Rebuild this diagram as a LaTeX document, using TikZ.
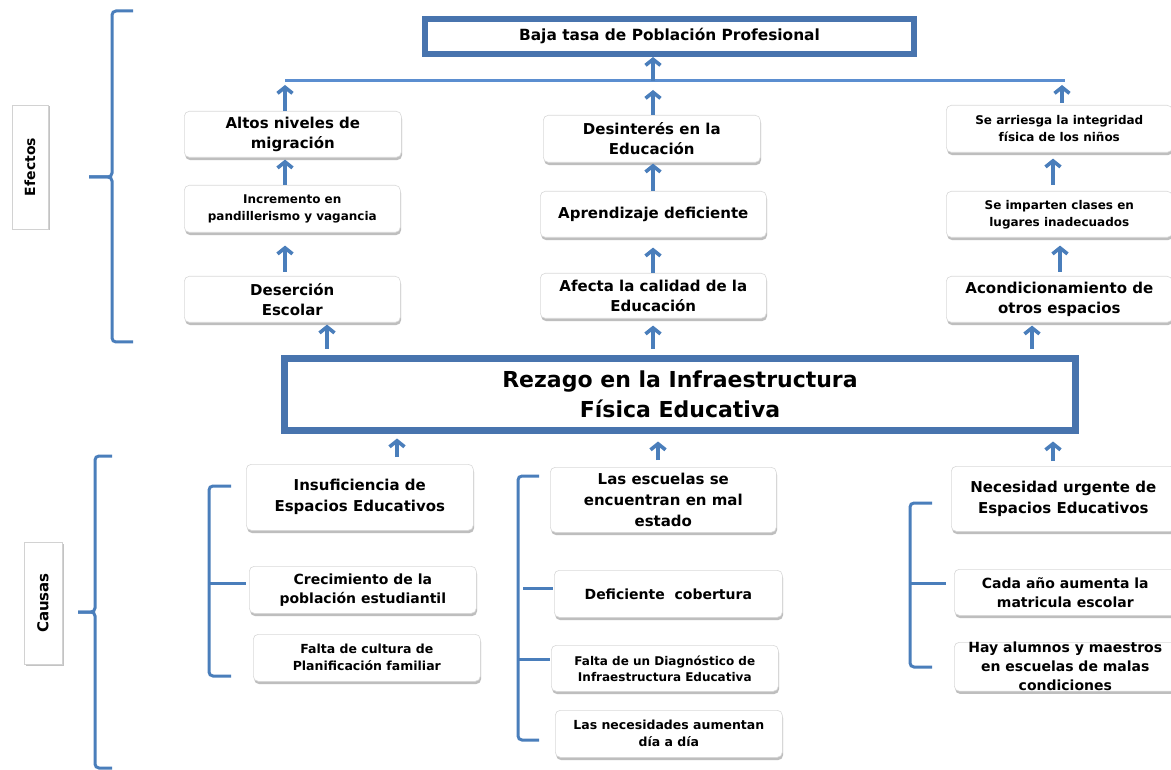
\documentclass[tikz,border=0pt]{standalone}
\usepackage{fontspec}
\setmainfont{DejaVu Sans}
\usetikzlibrary{arrows.meta,shadows,calc}
\definecolor{framec}{HTML}{4874AE}
\definecolor{arrowc}{HTML}{4A7EBB}
\definecolor{linec}{HTML}{5B8ED0}
\newcommand{\fs}[2]{\fontsize{#1}{#2}\selectfont\bfseries}
\begin{document}
\begin{tikzpicture}[x=1pt,y=-1pt,
 card/.style={draw=gray!30, line width=0.6pt, fill=white, rounded corners=5pt, inner sep=0pt, align=center, anchor=north west,
   drop shadow={shadow xshift=0.8pt, shadow yshift=-2.8pt, opacity=0.6, fill=gray!85}},
 lab/.style={draw=gray!35, line width=0.6pt, fill=white, inner sep=0pt,
   drop shadow={shadow xshift=1.5pt, shadow yshift=-1.5pt, opacity=0.55, fill=gray!85}},
 big/.style={draw=framec, fill=white, inner sep=0pt, align=center},
 arr/.style={draw=arrowc, line width=3.6pt, -{Straight Barb[length=6pt,width=15pt]}},
 brk/.style={draw=arrowc, line width=3pt, rounded corners=4pt},
]
\useasboundingbox[fill=white] (0,0) rectangle (1171,770);

% top and main boxes
\node[big, line width=6pt, minimum width=489, minimum height=35, font=\fs{15.4}{18}] (top) at (669.5,36.5) {Baja tasa de Población Profesional};
\node[big, line width=7pt, minimum width=791, minimum height=72, font=\fs{22}{30}] (main) at (680,394.5) {Rezago en la Infraestructura\\Física Educativa};

% labels
\node[lab, rotate=90, minimum width=124, minimum height=36, font=\fs{14}{16}] (efe) at (30,167) {Efectos};
\node[lab, rotate=90, minimum width=122, minimum height=38, font=\fs{15}{17}] (cau) at (43,603) {Causas};

% effects
\node[card, minimum width=217, minimum height=46, font=\fs{15}{20}] (alt) at (184,111) {Altos niveles de\\migración};
\node[card, minimum width=216, minimum height=47, font=\fs{12}{16.5}] (inc) at (184,185) {Incremento en\\pandillerismo y vagancia};
\node[card, minimum width=216, minimum height=46, font=\fs{15}{20}] (des) at (184,276) {Deserción\\Escolar};
\node[card, minimum width=217, minimum height=47, font=\fs{15}{20}] (dsi) at (543,115) {Desinterés en la\\Educación};
\node[card, minimum width=226, minimum height=46, font=\fs{15}{20}] (apr) at (540,191) {Aprendizaje deficiente};
\node[card, minimum width=226, minimum height=45, font=\fs{15}{20}] (afe) at (540,273) {Afecta la calidad de la\\Educación};
\node[card, minimum width=226, minimum height=47, font=\fs{12}{17}] (rie) at (946,105) {Se arriesga la integridad\\física de los niños};
\node[card, minimum width=226, minimum height=46, font=\fs{12}{17}] (imp) at (946,191) {Se imparten clases en\\lugares inadecuados};
\node[card, minimum width=226, minimum height=46, font=\fs{15}{20}] (aco) at (946,276) {Acondicionamiento de\\otros espacios};

% causes
\node[card, minimum width=227, minimum height=66, font=\fs{15}{21}] (ins) at (246,464) {Insuficiencia de\\Espacios Educativos};
\node[card, minimum width=227, minimum height=47, font=\fs{14}{19}] (cre) at (249,566) {Crecimiento de la\\población estudiantil};
\node[card, minimum width=227, minimum height=47, font=\fs{12.5}{17}] (fal) at (253,634) {Falta de cultura de\\Planificación familiar};
\node[card, minimum width=226, minimum height=65, font=\fs{15}{21}] (esc) at (550,467) {Las escuelas se\\encuentran en mal\\estado};
\node[card, minimum width=228, minimum height=47, font=\fs{14}{19}] (def) at (554,570) {Deficiente\ \ cobertura};
\node[card, minimum width=227, minimum height=46, font=\fs{12}{16}] (dia) at (551,645) {Falta de un Diagnóstico de\\Infraestructura Educativa};
\node[card, minimum width=227, minimum height=47, font=\fs{12.5}{17}] (nec) at (555,710) {Las necesidades aumentan\\día a día};
\node[card, minimum width=224, minimum height=65, font=\fs{15}{21}] (nur) at (951,466) {Necesidad urgente de\\Espacios Educativos};
\node[card, minimum width=222, minimum height=46, font=\fs{14}{19}] (cad) at (954,569) {Cada año aumenta la\\matricula escolar};
\node[card, minimum width=222, minimum height=46, font=\fs{14}{19}] (hay) at (954,642) {Hay alumnos y maestros\\en escuelas de malas\\condiciones};

% x positions of arrows
\coordinate (xa) at (285,0);
\coordinate (xb) at (327,0);
\coordinate (xc) at (653,0);
\coordinate (xd) at (1062,0);
\coordinate (xe) at (1053,0);
\coordinate (xf) at (1060,0);
\coordinate (xg) at (1032,0);
\coordinate (xh) at (397,0);
\coordinate (xi) at (658,0);

% horizontal collector line
\coordinate (hl) at (285,81);
\coordinate (hr) at (1065,81);
\coordinate (hm) at (653,81);
\draw[draw=linec, line width=3pt] (hl) -- (hr);

% effect arrows
\draw[arr] (hm) -- (top.south -| hm);
\draw[arr] (alt.north -| xa) -- ([yshift=-4pt]hl);
\draw[arr] (dsi.north -| xc) -- ([yshift=-9pt]hm);
\draw[arr, shorten <=2pt] (rie.north -| xd) -- ([yshift=-4pt]hr -| xd);
\draw[arr, shorten >=2pt] (inc.north -| xa) -- (alt.south -| xa);
\draw[arr, shorten <=4pt, shorten >=13pt] (des.north -| xa) -- (inc.south -| xa);
\draw[arr, shorten <=3pt, shorten >=2pt] ([yshift=3.5pt]main.north -| xb) -- (des.south -| xb);
\draw[arr, shorten >=1pt] (apr.north -| xc) -- (dsi.south -| xc);
\draw[arr, shorten >=10pt] (afe.north -| xc) -- (apr.south -| xc);
\draw[arr, shorten <=3pt, shorten >=7pt] ([yshift=3.5pt]main.north -| xc) -- (afe.south -| xc);
\draw[arr, shorten <=6pt, shorten >=6pt] (imp.north -| xe) -- (rie.south -| xe);
\draw[arr, shorten <=4pt, shorten >=8pt] (aco.north -| xf) -- (imp.south -| xf);
\draw[arr, shorten <=3pt, shorten >=3pt] ([yshift=3.5pt]main.north -| xg) -- (aco.south -| xg);

% cause arrows
\draw[arr, shorten <=7pt, shorten >=1pt] (ins.north -| xh) -- ([yshift=-3.5pt]main.south -| xh);
\draw[arr, shorten <=7pt, shorten >=4pt] (esc.north -| xi) -- ([yshift=-3.5pt]main.south -| xi);
\draw[arr, shorten <=5pt, shorten >=4pt] (nur.north -| xe) -- ([yshift=-3.5pt]main.south -| xe);

% big braces
\draw[brk] (133,11) -- (112,11) -- (112,177) -- (89,177);
\draw[brk] (89,177) -- (112,177) -- (112,342) -- (133,342);
\draw[brk] (112,456) -- (95,456) -- (95,612) -- (78,612);
\draw[brk] (78,612) -- (95,612) -- (95,768) -- (112,768);

% inner brackets
\draw[brk] (231,486) -- (209,486) -- (209,676) -- (231,676);
\draw[brk] (209,583) -- ([xshift=-3pt]cre.west |- 0,583);
\draw[brk] (539,476) -- (518,476) -- (518,740) -- (539,740);
\draw[brk] (523,588) -- ([xshift=-1pt]def.west |- 0,588);
\draw[brk] (518,659) -- ([xshift=-1pt]dia.west |- 0,659);
\draw[brk] (932,503) -- (910,503) -- (910,667) -- (932,667);
\draw[brk] (910,583) -- ([xshift=-8pt]cad.west |- 0,583);
\end{tikzpicture}
\end{document}
